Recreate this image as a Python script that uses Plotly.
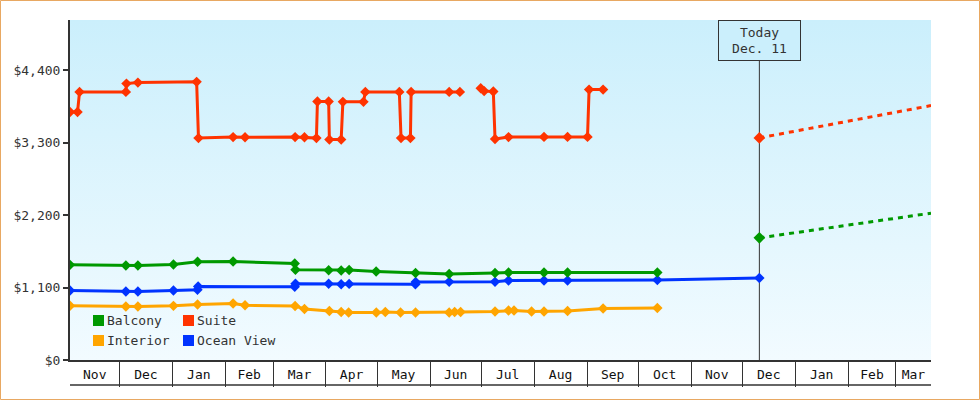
import base64
from datetime import datetime
import plotly.graph_objects as go

FONT = "DejaVu Sans Mono"

# ---------------- data ----------------
suite_dates = ["2013-11-02", "2013-11-06 10:00", "2013-11-07 14:00", "2013-12-04 18:00", "2013-12-05 02:00",
               "2013-12-11 19:00", "2014-01-15 05:00", "2014-01-16 07:00", "2014-02-05 14:00", "2014-02-12 14:00",
               "2014-03-13 22:00", "2014-03-19 10:00", "2014-03-26 10:00", "2014-03-27 00:00", "2014-04-02 14:00",
               "2014-04-03 00:00", "2014-04-09 22:00", "2014-04-10 22:00", "2014-04-23 00:00", "2014-04-24 02:00",
               "2014-05-14 00:00", "2014-05-15 00:00", "2014-05-20 12:00", "2014-05-20 22:00", "2014-06-12 05:00",
               "2014-06-18 12:00", "2014-06-24 00:00", "2014-06-30 17:00", "2014-07-02 17:00", "2014-07-08 02:00",
               "2014-07-09 02:00", "2014-07-17 00:00", "2014-08-06 19:00", "2014-08-20 14:00", "2014-09-01 07:00",
               "2014-09-02 05:00", "2014-09-10 10:00"]
suite_prices = [3764, 3764, 4069, 4069, 4195,
                4210, 4221, 3368, 3383, 3380,
                3383, 3380, 3368, 3922, 3922,
                3345, 3345, 3918, 3918, 4069,
                4069, 3368, 3368, 4069, 4069,
                4069, None, 4124, 4081, 4074,
                3353, 3383, 3386, 3386, 3386,
                4104, 4104]

balcony_dates = ["2013-11-02", "2013-12-04 18:00", "2013-12-11 19:00", "2014-01-01 15:00", "2014-01-15 18:00",
                 "2014-02-05 14:00", "2014-03-13 17:00", "2014-03-14 03:00", "2014-04-02 14:00", "2014-04-09 22:00",
                 "2014-04-14 14:00", "2014-04-30 10:00", "2014-05-23 12:00", "2014-06-12 05:00", "2014-07-09 02:00",
                 "2014-07-17 00:00", "2014-08-06 19:00", "2014-08-20 14:00", "2014-10-12 05:00"]
balcony_prices = [1444, 1434, 1434, 1449, 1490,
                  1494, 1464, 1369, 1362, 1358,
                  1365, 1343, 1320, 1305, 1320,
                  1328, 1328, 1328, 1328]

ocean_dates = ["2013-11-02", "2013-12-04 18:00", "2013-12-11 19:00", "2014-01-01 15:00", "2014-01-15 17:00",
               "2014-01-16 02:00", "2014-03-13 17:00", "2014-03-14 03:00", "2014-04-02 14:00", "2014-04-09 22:00",
               "2014-04-14 14:00", "2014-05-23 10:00", "2014-05-23 14:00", "2014-06-12 05:00", "2014-07-09 02:00",
               "2014-07-17 00:00", "2014-08-06 19:00", "2014-08-20 14:00", "2014-10-12 05:00", "2014-12-11"]
ocean_prices = [1054, 1039, 1039, 1054, 1065,
                1115, 1111, 1158, 1158, 1150,
                1155, 1150, 1183, 1186, 1186,
                1206, 1206, 1206, 1214, 1244]

interior_dates = ["2013-11-02", "2013-12-04 18:00", "2013-12-11 19:00", "2014-01-01 15:00", "2014-01-15 18:00",
                  "2014-02-05 14:00", "2014-02-12 14:00", "2014-03-13 22:00", "2014-03-19 10:00", "2014-04-03 00:00",
                  "2014-04-09 22:00", "2014-04-14 07:00", "2014-04-30 12:00", "2014-05-05 19:00", "2014-05-14 17:00",
                  "2014-05-23 12:00", "2014-06-12 05:00", "2014-06-15 10:00", "2014-06-18 22:00", "2014-07-09 02:00",
                  "2014-07-17 00:00", "2014-07-20 05:00", "2014-07-30 12:00", "2014-08-06 19:00", "2014-08-20 14:00",
                  "2014-09-10 10:00", "2014-10-12 05:00"]
interior_prices = [824, 812, 812, 822, 842,
                   857, 830, 819, 774, 743,
                   728, 721, 721, 728, 721,
                   721, 721, 728, 728, 736,
                   751, 751, 736, 736, 743,
                   781, 789]

forecast_dates = ["2014-12-11", "2015-03-21 14:00"]
suite_forecast = [3371, 3861]
balcony_forecast = [1854, 2228]

today = "2014-12-11"
today_label = "Today<br>Dec. 11"

x_range = ["2013-11-02", "2015-03-21 14:00"]
month_starts = ["2013-12-01", "2014-01-01", "2014-02-01", "2014-03-01", "2014-04-01", "2014-05-01",
                "2014-06-01", "2014-07-01", "2014-08-01", "2014-09-01", "2014-10-01", "2014-11-01",
                "2014-12-01", "2015-01-01", "2015-02-01", "2015-03-01"]
month_labels = ["Nov", "Dec", "Jan", "Feb", "Mar", "Apr", "May", "Jun", "Jul", "Aug", "Sep", "Oct",
                "Nov", "Dec", "Jan", "Feb", "Mar"]
y_ticks = [0, 1100, 2200, 3300, 4400]
y_tick_labels = ["$0", "$1,100", "$2,200", "$3,300", "$4,400"]
y_max = 5160

# ---------------- styles ----------------
C_SUITE = "#ff3300"
C_BALC = "#009900"
C_INT = "#ffa500"
C_OCEAN = "#0033ff"
AX = "#333333"

# label positions: centre of the visible part of each month
def _p(s):
    for fmt in ("%Y-%m-%d %H:%M", "%Y-%m-%d"):
        try:
            return datetime.strptime(s, fmt)
        except ValueError:
            pass
bounds = [_p(x_range[0])] + [_p(m) for m in month_starts] + [_p(x_range[1])]
mid_vals = [(bounds[i] + (bounds[i + 1] - bounds[i]) / 2) for i in range(len(bounds) - 1)]

fig = go.Figure()

def series(name, xs, ys, color):
    fig.add_trace(go.Scatter(x=xs, y=ys, name=name, mode="lines+markers",
                             line=dict(color=color, width=3),
                             marker=dict(symbol="diamond", size=8, color=color),
                             connectgaps=False, showlegend=False))

series("Interior", interior_dates, interior_prices, C_INT)
series("Ocean View", ocean_dates, ocean_prices, C_OCEAN)
series("Balcony", balcony_dates, balcony_prices, C_BALC)
series("Suite", suite_dates, suite_prices, C_SUITE)

for ys, color, nm in [(suite_forecast, C_SUITE, "Suite forecast"), (balcony_forecast, C_BALC, "Balcony forecast")]:
    fig.add_trace(go.Scatter(x=forecast_dates, y=ys, name=nm, mode="lines",
                             line=dict(color=color, width=3, dash="5px,5px"), showlegend=False))
    fig.add_trace(go.Scatter(x=forecast_dates[:1], y=ys[:1], mode="markers", showlegend=False,
                             marker=dict(symbol="diamond", size=9, color=color)))

# gradient background for the plot area
svg = ('<svg xmlns="http://www.w3.org/2000/svg" width="10" height="100" viewBox="0 0 10 100" '
       'preserveAspectRatio="none"><defs><linearGradient id="g" x1="0" y1="0" x2="0" y2="1">'
       '<stop offset="0" stop-color="#cbeffc"/><stop offset="1" stop-color="#f2fbff"/>'
       '</linearGradient></defs><rect width="10" height="100" fill="url(#g)"/></svg>')
bg_src = "data:image/svg+xml;base64," + base64.b64encode(svg.encode()).decode()

L, R, T, B, W, H = 70, 49, 20, 40, 980, 400
PW, PH = W - L - R, H - T - B
def px(x):
    return (x - L) / PW
def py(y):
    return (H - B - y) / PH

shapes = [
    dict(type="line", xref="x", yref="paper", x0=today, x1=today, y0=0, y1=1,
         line=dict(color=AX, width=1), layer="below"),
    dict(type="line", xref="paper", yref="paper", x0=0, x1=1, y0=py(385), y1=py(385),
         line=dict(color=AX, width=1.5)),
    dict(type="rect", xref="paper", yref="paper", x0=px(0.5), x1=px(979.5), y0=py(399.5), y1=py(0.5),
         line=dict(color="#e8a862", width=1)),
]
annotations = [
    dict(x=today, xref="x", y=1, yref="paper", xanchor="center", yanchor="top", showarrow=False,
         text=today_label, font=dict(family=FONT, size=13, color=AX), bgcolor="#cbeffc",
         bordercolor=AX, borderwidth=1, borderpad=2, width=77, height=35),
]

legend_items = [("Balcony", C_BALC, 93, 315), ("Suite", C_SUITE, 183, 315),
                ("Interior", C_INT, 93, 335), ("Ocean View", C_OCEAN, 183, 335)]
for name, color, lx, ly in legend_items:
    shapes.append(dict(type="rect", xref="paper", yref="paper", x0=px(lx), x1=px(lx + 11),
                       y0=py(ly + 11), y1=py(ly), fillcolor=color, line=dict(width=0)))
    annotations.append(dict(x=px(lx + 12), y=py(ly + 5.5), xref="paper", yref="paper", xanchor="left",
                            yanchor="middle", showarrow=False, text=name,
                            font=dict(family=FONT, size=13, color=AX)))

fig.update_layout(
    width=W, height=H, margin=dict(l=L, r=R, t=T, b=B),
    paper_bgcolor="white", plot_bgcolor="rgba(0,0,0,0)",
    font=dict(family=FONT, size=13, color=AX),
    showlegend=False, hovermode=False,
    images=[dict(source=bg_src, xref="paper", yref="paper", x=0, y=1, sizex=1, sizey=1,
                 xanchor="left", yanchor="top", sizing="stretch", layer="below")],
    shapes=shapes, annotations=annotations,
    xaxis=dict(type="date", range=x_range, showgrid=False, zeroline=False,
               showline=True, linecolor=AX, linewidth=2,
               tickmode="array", tickvals=mid_vals, ticktext=month_labels,
               ticks="outside", ticklen=1, tickcolor="rgba(0,0,0,0)",
               tickfont=dict(family=FONT, size=13, color="#111"),
               minor=dict(ticks="outside", ticklen=25, tickwidth=1, tickcolor=AX,
                          dtick="M1", tick0="2013-11-01", showgrid=False)),
    yaxis=dict(range=[0, y_max], showgrid=False, zeroline=False,
               showline=True, linecolor=AX, linewidth=2,
               tickmode="array", tickvals=y_ticks, ticktext=y_tick_labels,
               ticks="outside", ticklen=5, tickwidth=2, tickcolor=AX,
               tickfont=dict(family=FONT, size=13, color=AX)),
)

fig.write_html("out.html", config={"displayModeBar": False},
               post_script="document.body.style.margin='0';")
